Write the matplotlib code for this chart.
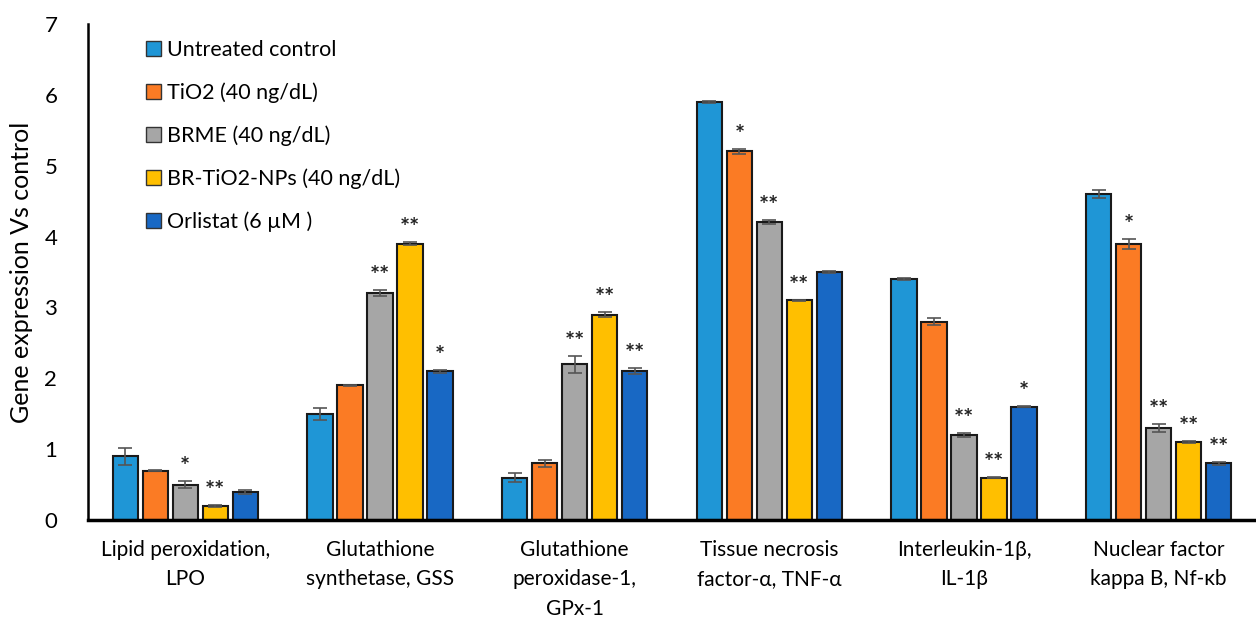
import numpy as np
import matplotlib.pyplot as plt
from matplotlib.patches import Patch

plt.rcParams['font.family'] = ['Lato', 'DejaVu Sans']

genes = ['Lipid peroxidation,\nLPO', 'Glutathione\nsynthetase, GSS',
         'Glutathione\nperoxidase-1,\nGPx-1', 'Tissue necrosis\nfactor-α, TNF-α',
         'Interleukin-1β,\nIL-1β', 'Nuclear factor\nkappa B, Nf-κb']
groups = ['Untreated control', 'TiO2 (40 ng/dL)', 'BRME (40 ng/dL)',
          'BR-TiO2-NPs (40 ng/dL)', 'Orlistat (6 µM )']
colors = ['#1f96d6', '#fb7b24', '#a6a6a6', '#ffbf00', '#1868c4']

control = [0.9, 1.5, 0.6, 5.9, 3.4, 4.6]
tio2 = [0.7, 1.9, 0.8, 5.2, 2.8, 3.9]
brme = [0.5, 3.2, 2.2, 4.2, 1.2, 1.3]
br_nps = [0.2, 3.9, 2.9, 3.1, 0.6, 1.1]
orlistat = [0.4, 2.1, 2.1, 3.5, 1.6, 0.8]

control_err = [0.12, 0.08, 0.06, 0.01, 0.01, 0.06]
tio2_err = [0.01, 0.01, 0.05, 0.03, 0.05, 0.07]
brme_err = [0.05, 0.04, 0.12, 0.03, 0.03, 0.06]
br_nps_err = [0.01, 0.02, 0.04, 0.01, 0.01, 0.01]
orlistat_err = [0.03, 0.02, 0.04, 0.01, 0.01, 0.02]

control_sig = ['', '', '', '', '', '']
tio2_sig = ['', '', '', '*', '', '*']
brme_sig = ['*', '**', '**', '**', '**', '**']
br_nps_sig = ['**', '**', '**', '**', '**', '**']
orlistat_sig = ['', '*', '**', '', '*', '**']

values = [control, tio2, brme, br_nps, orlistat]
errors = [control_err, tio2_err, brme_err, br_nps_err, orlistat_err]
sigs = [control_sig, tio2_sig, brme_sig, br_nps_sig, orlistat_sig]

fig = plt.figure(figsize=(12.56, 6.26), dpi=100)
ax = fig.add_axes([0.070, 0.169, 0.93, 0.793])

x = np.arange(len(genes))
width = 0.13
step = 0.154
for i in range(5):
    pos = x + (i - 2) * step
    ax.bar(pos, values[i], width, color=colors[i], edgecolor='#1a1a1a',
           linewidth=1.5, label=groups[i], zorder=2)
    ax.errorbar(pos, values[i], yerr=errors[i], fmt='none', ecolor='#555555',
                elinewidth=1.2, capsize=5, capthick=1.2, zorder=3)
    for p, v, e, s in zip(pos, values[i], errors[i], sigs[i]):
        if s:
            ax.text(p, v + e + 0.03, s, ha='center', va='bottom',
                    fontsize=17, fontweight='bold', color='#222222')

ax.set_xlim(-0.5, 5.5)
ax.set_ylim(0, 7)
ax.set_yticks(range(8))
ax.set_xticks(x)
ax.set_xticklabels(genes, fontsize=15, linespacing=1.6)
ax.tick_params(axis='both', length=0)
ax.tick_params(axis='y', labelsize=16, pad=22)
ax.tick_params(axis='x', pad=14)
for side in ['top', 'right']:
    ax.spines[side].set_visible(False)
ax.spines['left'].set_linewidth(1.8)
ax.spines['bottom'].set_linewidth(2.5)
ax.set_ylabel('Gene expression Vs control', fontsize=18, labelpad=8)

handles = [Patch(facecolor=c, edgecolor='#333333', linewidth=1) for c in colors]
ax.legend(handles, groups, loc='upper left', bbox_to_anchor=(0.033, 1.007),
          frameon=False, fontsize=15.5, handlelength=0.7, handleheight=0.7,
          handletextpad=0.3, labelspacing=1.05)

fig.savefig('out.png', dpi=100)
